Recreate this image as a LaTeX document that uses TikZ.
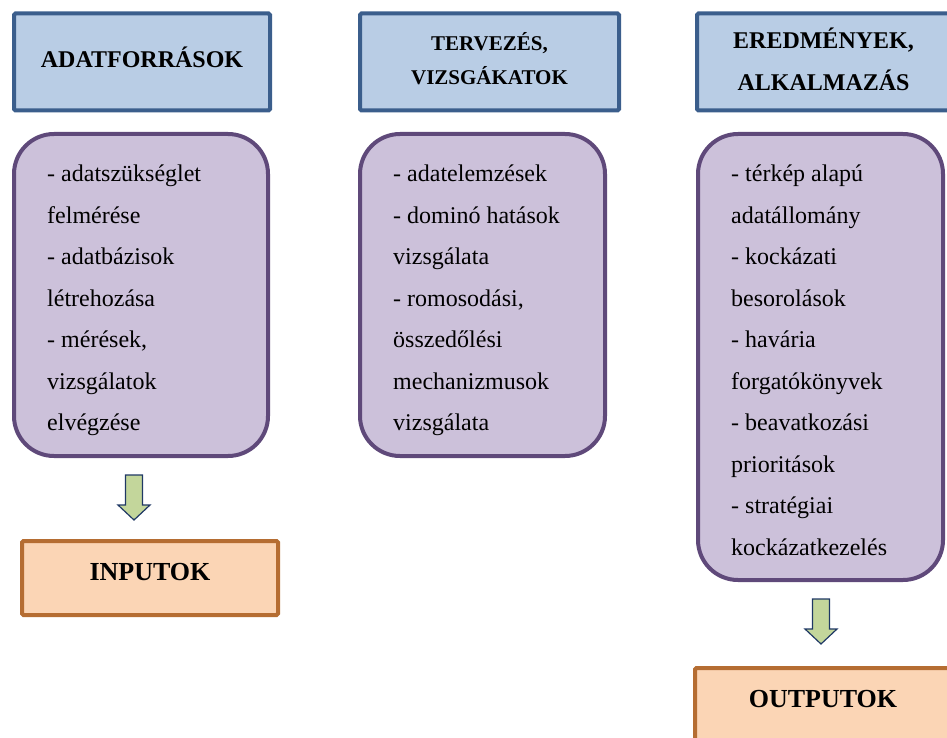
\documentclass[tikz,border=0pt]{standalone}
\usepackage{fontspec}
\setmainfont{Liberation Serif}
\usetikzlibrary{positioning,calc}
\definecolor{HeadBlue}{HTML}{B9CDE5}
\definecolor{HeadEdge}{HTML}{3B5E8C}
\definecolor{ListLilac}{HTML}{CCC1DA}
\definecolor{ListEdge}{HTML}{5F497A}
\definecolor{EndPeach}{HTML}{FBD5B5}
\definecolor{EndEdge}{HTML}{B56D32}
\definecolor{ArrowGreen}{HTML}{C3D69B}
\definecolor{ArrowEdge}{HTML}{1F3864}

\begin{document}
\begin{tikzpicture}[x=1pt,y=-1pt,
    headbox/.style={draw=HeadEdge,fill=HeadBlue,line width=4pt,rounded corners=1.5pt,
      minimum height=97pt,align=center,inner sep=0pt,
      font=\bfseries\fontsize{24}{42}\selectfont},
    listbox/.style={draw=ListEdge,fill=ListLilac,line width=4pt,rounded corners=40pt,
      inner sep=0pt},
    listtext/.style={anchor=north west,align=left,inner sep=0pt,
      font=\fontsize{24}{41.5}\selectfont},
    endbox/.style={draw=EndEdge,fill=EndPeach,line width=4pt,rounded corners=1.5pt,
      minimum width=256pt,minimum height=74pt,inner sep=0pt,text depth=12pt,
      font=\bfseries\fontsize{26}{30}\selectfont},
    blockarrow/.style={draw=ArrowEdge,fill=ArrowGreen,line width=1.2pt,line join=miter}]
  \useasboundingbox (0,0) rectangle (947,738);
  \clip (0,0) rectangle (947,738);

  % column headers
  \node[headbox,minimum width=256pt,text depth=10pt] (src) at (142,62) {ADATFORRÁSOK};
  \node[headbox,minimum width=259pt,text depth=8pt,font=\bfseries\fontsize{21}{34}\selectfont]
    (plan) at (489.5,62) {TERVEZÉS,\\VIZSGÁKATOK};
  \node[headbox,minimum width=253pt,text depth=6pt] (res) at (823.5,62) {EREDMÉNYEK,\\ALKALMAZÁS};

  % lists
  \node[listbox,minimum width=254pt,minimum height=322pt] (srclist) at (141,295) {};
  \node[listbox,minimum width=245pt,minimum height=322pt] (planlist) at (482.5,295) {};
  \node[listbox,minimum width=245pt,minimum height=446pt] (reslist) at (820.5,357) {};

  \node[listtext,below right=33pt and 35pt of srclist.north west]
    {- adatszükséglet\\felmérése\\- adatbázisok\\létrehozása\\- mérések,\\vizsgálatok\\elvégzése};
  \node[listtext,below right=33pt and 35pt of planlist.north west]
    {- adatelemzések\\- dominó hatások\\vizsgálata\\- romosodási,\\összedőlési\\mechanizmusok\\vizsgálata};
  \node[listtext,below right=33pt and 35pt of reslist.north west]
    {- térkép alapú\\adatállomány\\- kockázati\\besorolások\\- havária\\forgatókönyvek\\- beavatkozási\\prioritások\\- stratégiai\\kockázatkezelés};

  % inputs / outputs
  \node[endbox] (inp) at (150,578) {INPUTOK};
  \node[endbox] (outp) at (823,705) {OUTPUTOK};

  \coordinate (inarrow) at (134,475);
  \coordinate (outarrow) at (821,599);
  \foreach \c in {inarrow,outarrow}
    \draw[blockarrow] (\c) ++(-8.5,0) -- ++(17,0) -- ++(0,30) -- ++(7.5,0)
      -- ++(-16,15) -- ++(-16,-15) -- ++(7.5,0) -- cycle;
\end{tikzpicture}
\end{document}
